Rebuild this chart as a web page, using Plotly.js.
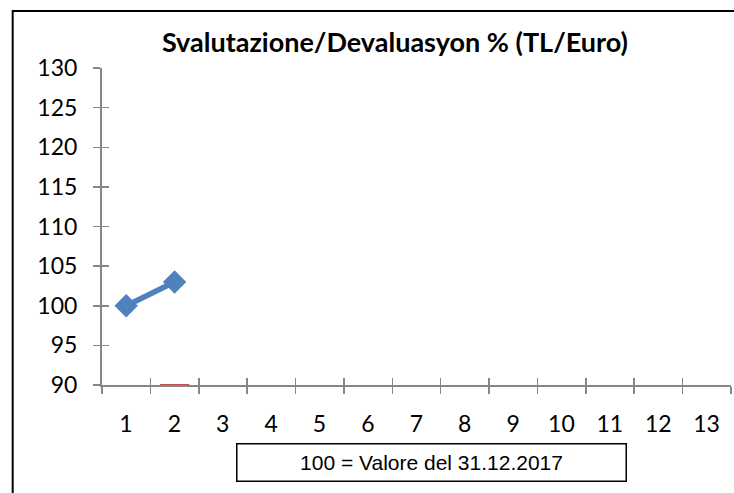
<!DOCTYPE html>
<html><head><meta charset="utf-8">
<script src="https://cdn.plot.ly/plotly-3.0.1.min.js"></script>
<style>html,body{margin:0;padding:0;background:#fff;}#chart{width:734px;height:493px;}</style>
</head><body><div id="chart"></div>
<script>
const categories = [1,2,3,4,5,6,7,8,9,10,11,12,13];
const tickLabels = ['1','2','3','4','5','6','7','8','9','10','11','12','13'];
const seriesX = [1,2];
const seriesValues = [100,103];
const series2X = [2];
const series2Values = [90];
const yTicks = [90,95,100,105,110,115,120,125,130];

const boundaries = categories.map(c => c - 0.5).concat([categories[categories.length-1] + 0.5]);
const boundaryText = tickLabels.concat(['']);
const xr = [0.5, 13.5];
const yr = [90, 130];
const axisGray = '#868686';

const traces = [
  {x: seriesX, y: seriesValues, type: 'scatter', mode: 'lines+markers',
   line: {color: '#4F81BD', width: 5.5},
   marker: {symbol: 'diamond', size: 18, color: '#4F81BD'},
   cliponaxis: false, showlegend: false, hoverinfo: 'none'},
  {x: series2X, y: series2Values, type: 'scatter', mode: 'markers', xaxis: 'x2', yaxis: 'y2',
   marker: {symbol: 'line-ew', size: 21, line: {color: '#C0504D', width: 2}},
   cliponaxis: false, showlegend: false, hoverinfo: 'none'}
];

const layout = {
  width: 734, height: 493,
  margin: {l: 102, r: 3, t: 68, b: 108},
  paper_bgcolor: '#fff', plot_bgcolor: 'rgba(0,0,0,0)',
  font: {family: 'Lato, sans-serif', color: '#000', size: 23},
  title: {text: '<b>Svalutazione/Devaluasyon % (TL/Euro)</b>', x: 0.538, xanchor: 'center', y: 0.913, yanchor: 'middle',
          font: {family: 'Lato, sans-serif', size: 27, color: '#000'}},
  xaxis: {range: xr, tickmode: 'array', tickvals: boundaries, ticktext: boundaryText,
          ticks: 'outside', ticklen: 7, tickwidth: 1.5, tickcolor: axisGray,
          ticklabelshift: 24, ticklabelstandoff: 10,
          showline: true, linecolor: axisGray, linewidth: 2, showgrid: false, zeroline: false, fixedrange: true},
  xaxis2: {range: xr, overlaying: 'x', anchor: 'y', tickmode: 'array', tickvals: boundaries,
           ticks: 'inside', ticklen: 7, tickwidth: 1.5, tickcolor: axisGray, showticklabels: false,
           showline: false, showgrid: false, zeroline: false, fixedrange: true},
  yaxis: {range: yr, tickmode: 'array', tickvals: yTicks,
          ticks: 'outside', ticklen: 7, tickwidth: 1.5, tickcolor: axisGray, ticklabelstandoff: 11,
          showline: true, linecolor: axisGray, linewidth: 2, showgrid: false, zeroline: false, fixedrange: true},
  yaxis2: {range: yr, overlaying: 'y', anchor: 'x', side: 'left', tickmode: 'array', tickvals: yTicks,
           ticks: 'inside', ticklen: 7, tickwidth: 1.5, tickcolor: axisGray, showticklabels: false,
           showline: false, showgrid: false, zeroline: false, fixedrange: true},
  shapes: [
    {type: 'rect', xref: 'paper', yref: 'paper', x0: -0.142, x1: 1.2, y0: -0.6, y1: 1.18,
     line: {color: '#000', width: 2}, fillcolor: 'rgba(0,0,0,0)', layer: 'below'}
  ],
  annotations: [
    {text: '100 = Valore del 31.12.2017', xref: 'paper', yref: 'paper', x: 0.5246, y: -0.243,
     xanchor: 'center', yanchor: 'middle', showarrow: false, width: 386, height: 34,
     bordercolor: '#000', borderwidth: 1.5, borderpad: 1, bgcolor: '#fff',
     font: {family: 'Liberation Sans, Arial, sans-serif', size: 21, color: '#000'}}
  ]
};

Plotly.newPlot('chart', traces, layout, {staticPlot: true, displayModeBar: false});
</script></body></html>
